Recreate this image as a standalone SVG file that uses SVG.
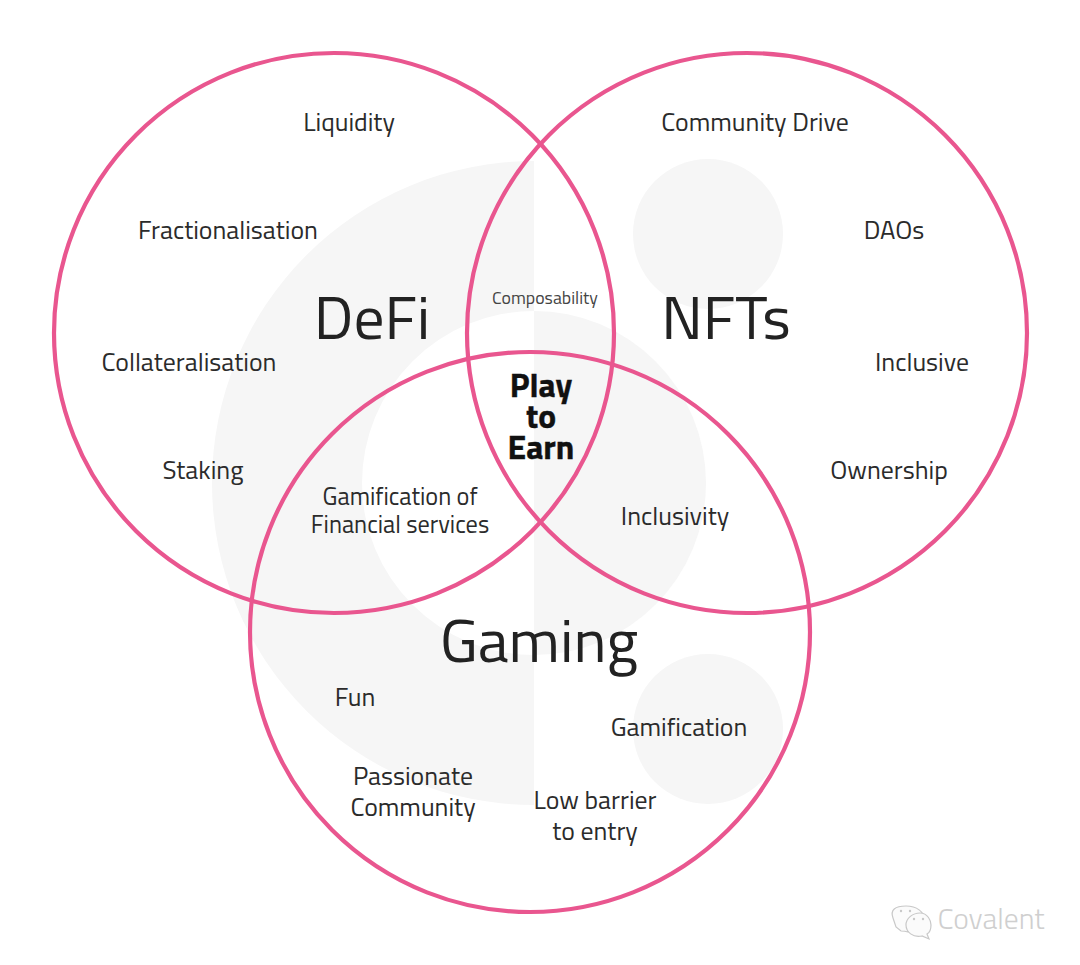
<svg xmlns="http://www.w3.org/2000/svg" width="1080" height="965" viewBox="0 0 1080 965">
<style>
text{font-family:"Titillium Web","Open Sans","Noto Sans","Liberation Sans",sans-serif;fill:#2b2b2b;text-anchor:middle}
.s{font-size:25.8px}
.m{font-size:24.3px}
.l{font-size:61.5px;fill:#222}
.p{font-size:33.6px;font-weight:700;fill:#111;stroke:#111;stroke-width:.4}
.c{fill:none;stroke:#e9568f;stroke-width:4.2}
.g{fill:#f6f6f6}
.w{fill:#fbfbfb;stroke:#c8c8c8;stroke-width:1.2}
.e{fill:#c8c8c8}
</style>
<rect width="1080" height="965" fill="#fff"/>
<g id="logo">
<path class="g" d="M534 161A322 322 0 0 0 534 805L534 655A172 172 0 0 1 534 311Z"/>
<path class="g" d="M534 311A172 172 0 0 1 534 655Z"/>
<circle class="g" cx="708" cy="234" r="75"/>
<circle class="g" cx="708" cy="729" r="75"/>
</g>
<g id="connectors"></g>
<g id="defi"><circle class="c" cx="334" cy="333" r="280"/><text class="l" x="372" y="339">DeFi</text></g>
<g id="nfts"><circle class="c" cx="747" cy="333" r="280"/><text class="l" x="726" y="339">NFTs</text></g>
<g id="gaming"><circle class="c" cx="530" cy="632" r="280"/><text class="l" x="539" y="662">Gaming</text></g>
<g id="items">
<text class="s" x="349" y="130.500">Liquidity</text>
<text class="s" x="228" y="238.500">Fractionalisation</text>
<text class="s" x="189" y="370.500">Collateralisation</text>
<text class="s" x="203" y="478.500">Staking</text>
<text class="s" x="755" y="130.500">Community Drive</text>
<text class="s" x="894" y="238.500">DAOs</text>
<text class="s" x="922" y="370.500">Inclusive</text>
<text class="s" x="889" y="478.500">Ownership</text>
<text x="545" y="304" font-size="17.800" style="fill:#444">Composability</text>
<text class="p" x="541" y="397">Play</text>
<text class="p" x="541" y="428">to</text>
<text class="p" x="541" y="459">Earn</text>
<text class="m" x="400" y="505">Gamification of</text>
<text class="m" x="400" y="533">Financial services</text>
<text class="s" x="675" y="524.500">Inclusivity</text>
<text class="s" x="355" y="705.500">Fun</text>
<text class="s" x="413" y="785">Passionate</text>
<text class="s" x="413" y="816">Community</text>
<text class="s" x="679" y="735.500">Gamification</text>
<text class="s" x="595" y="809">Low barrier</text>
<text class="s" x="595" y="840">to entry</text>
</g>
<g id="watermark">
<path class="w" d="M893 918C890 910 895 906 906 906C917 906 924 912 924 919C916 918 909 923 908 932C905 931 903 931 901 931L896 927C895 924 894 921 893 918Z"/>
<path class="w" d="M906 925C906 918 913 913 920 913C928 913 931 921 931 925C931 930 929 933 927 934L929 939L922 936C913 938 906 932 906 925Z"/>
<circle class="e" cx="901" cy="911" r="1.200"/><circle class="e" cx="910" cy="911" r="1.200"/>
<circle class="e" cx="914" cy="919" r="1.200"/><circle class="e" cx="923" cy="919" r="1.200"/>
<text x="991" y="929" font-size="29.600" font-weight="300" style="fill:#cfcfcf">Covalent</text>
</g>
</svg>
